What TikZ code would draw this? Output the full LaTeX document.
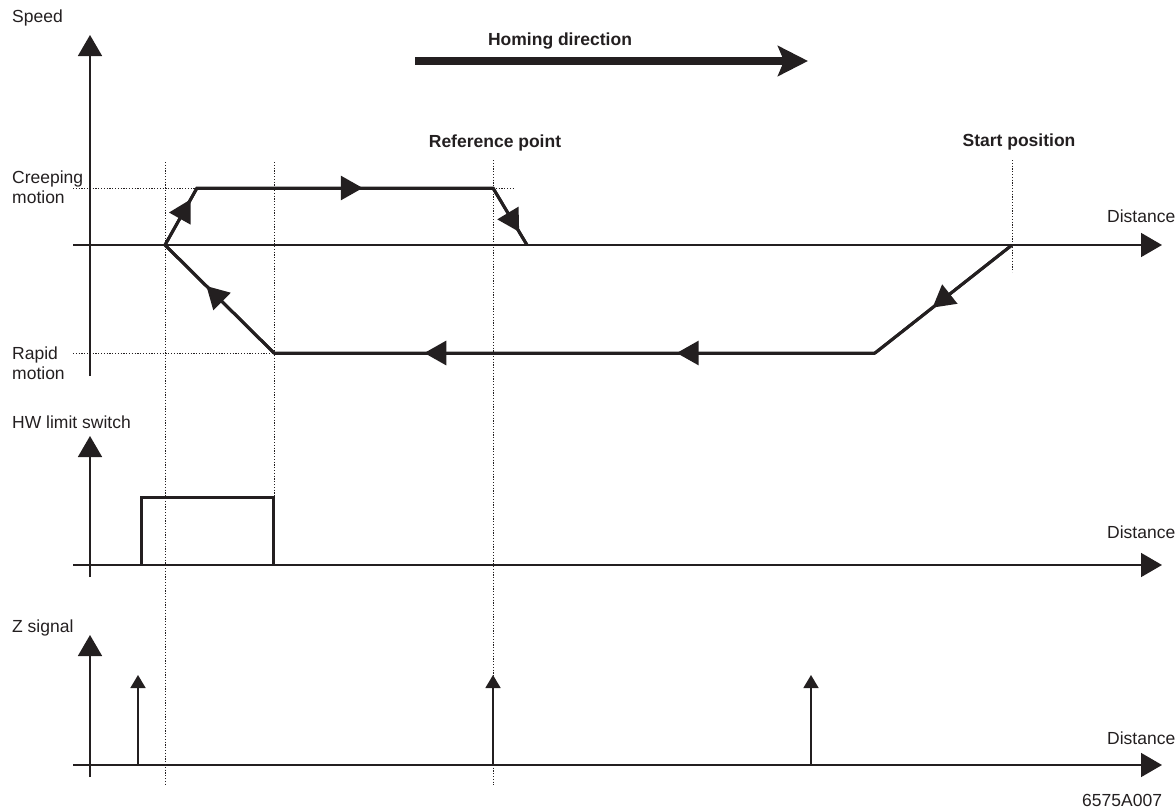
\documentclass[tikz,border=0pt]{standalone}
\usepackage{fontspec}
\setmainfont{Liberation Sans}
\usetikzlibrary{arrows.meta,decorations.markings}

\definecolor{ink}{RGB}{35,31,32}
\tikzset{
  axis/.style={line width=1.6pt,-{Triangle[length=21pt,width=24pt]}},
  guide/.style={line width=0.8pt,dash pattern=on 1.2pt off 1.6pt},
  motion/.style={line width=3pt,line join=miter},
  flow/.style={postaction={decorate,decoration={markings,
      mark=at position #1 with {\arrow{Triangle[length=22pt,width=24pt]}}}}},
  pulse/.style={line width=1.6pt,-{Triangle[length=13pt,width=15pt]}},
  lbl/.style={inner sep=0pt,anchor=base west,font=\fontsize{17.5}{20}\selectfont},
  head/.style={inner sep=0pt,anchor=base,font=\fontsize{17.5}{20}\selectfont\bfseries},
}

\begin{document}
\begin{tikzpicture}[x=1pt,y=-1pt,color=ink]
\useasboundingbox (0,0) rectangle (1175,811);

% axes
\foreach \n/\y/\t in {a/245/222,b/565/538,c/765/744} {
  \coordinate (\n0) at (73,\y);
  \coordinate (\n1) at (1162,\y);
  \draw[axis] (\n0) -- (\n1);
  \node[lbl] (dist\n) at (1107,\t) {Distance};
}
\coordinate (va0) at (90,376);  \coordinate (va1) at (90,35);
\coordinate (vb0) at (90,577);  \coordinate (vb1) at (90,436);
\coordinate (vc0) at (90,777);  \coordinate (vc1) at (90,635);
\foreach \n in {a,b,c} {
  \draw[axis] (v\n0) -- (v\n1);
}

% guide lines
\coordinate (c1) at (165,245);
\coordinate (c2) at (197,188);
\coordinate (c3) at (493,188);
\coordinate (c4) at (527,245);
\coordinate (r0) at (1012,245);
\coordinate (r1) at (875,353);
\coordinate (r2) at (274,353);
\draw[guide] (165,162) -- (165,785);
\draw[guide] (274,162) -- (274,565);
\draw[guide] (493,160) -- (493,785);
\draw[guide] (1012,160) -- (1012,272);
\draw[guide] (73,188) -- (c2);
\draw[guide] (c3) -- (515,188);
\draw[guide] (73,353) -- (r2);

% creeping and rapid motion
\draw[motion] (c1) -- (c2) -- (c3) -- (c4);
\draw[motion] (r0) -- (r1) -- (r2) -- (c1);
\draw[motion,flow=0.80] (c1) -- (c2);
\draw[motion,flow=0.56] (c2) -- (c3);
\draw[motion,flow=0.77] (c3) -- (c4);
\draw[motion,flow=0.58] (r0) -- (r1);
\draw[motion,flow=0.33,flow=0.75] (r1) -- (r2);
\draw[motion,flow=0.62] (r2) -- (c1);

% HW limit switch
\draw[motion] (141,565) -- (141,497) -- (273,497) -- (273,565);

% Z signal
\foreach \x in {138,493,811} {
  \draw[pulse] (\x,765) -- (\x,675);
}

% homing direction
\coordinate (h0) at (415,61);
\coordinate (h1) at (808,61);
\draw[line width=8pt,-{Stealth[length=30pt,width=30pt,inset=6pt]}] (h0) -- (h1);

% labels
\node[lbl] (speed) at (12,23) {Speed};
\node[lbl] (creep) at (12,183) {Creeping};
\node[lbl] (creepb) at (12,203) {motion};
\node[lbl] (rapid) at (12,359) {Rapid};
\node[lbl] (rapidb) at (12,379) {motion};
\node[lbl] (hw) at (12,428) {HW limit switch};
\node[lbl] (zsig) at (12,632) {Z signal};
\node[lbl] (code) at (1082,806) {6575A007};
\node[head] (homing) at (560,45) {Homing direction};
\node[head] (refpt) at (495,147) {Reference point};
\node[head] (start) at (1019,146) {Start position};
\end{tikzpicture}
\end{document}
